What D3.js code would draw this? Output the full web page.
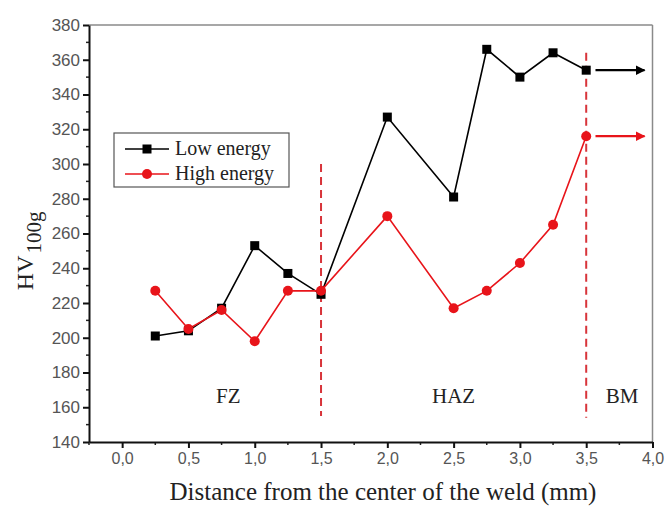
<!DOCTYPE html>
<html>
<head>
<meta charset="utf-8">
<script src="https://cdn.jsdelivr.net/npm/d3@7"></script>
<style>
  html, body { margin: 0; padding: 0; background: #fff; }
  svg { display: block; }
</style>
</head>
<body>
<div id="chart"></div>
<script>
// Hardness profile across the weld
const distances = [0.25, 0.5, 0.75, 1.0, 1.25, 1.5, 2.0, 2.5, 2.75, 3.0, 3.25, 3.5];
const lowEnergy = [201, 204, 217, 253, 237, 225, 327, 281, 366, 350, 364, 354];
const highEnergy = [227, 205, 216, 198, 227, 227, 270, 217, 227, 243, 265, 316];
const xTicks = [0, 0.5, 1.0, 1.5, 2.0, 2.5, 3.0, 3.5, 4.0];
const yTicks = [140, 160, 180, 200, 220, 240, 260, 280, 300, 320, 340, 360, 380];
const zoneBounds = [
  { x: 1.5, y0: 155, y1: 300 },
  { x: 3.5, y0: 154, y1: 364 },
];
const zoneLabels = [
  { name: "FZ", x: 0.8 },
  { name: "HAZ", x: 2.5 },
  { name: "BM", x: 3.77 },
];
const series = [
  { name: "Low energy", values: lowEnergy, color: "#000000", marker: "square" },
  { name: "High energy", values: highEnergy, color: "#e8141a", marker: "circle" },
];

const w = 665, h = 507;
const margin = { top: 25, right: 12.5, bottom: 65, left: 89 };
const serif = "'Liberation Serif', 'Times New Roman', serif";
const sans = "'Liberation Sans', Arial, sans-serif";

const svg = d3.select("#chart").append("svg")
  .attr("width", w)
  .attr("height", h);

const x = d3.scaleLinear().domain([-0.25, 4.0]).range([margin.left, w - margin.right]);
const y = d3.scaleLinear().domain([140, 380]).range([h - margin.bottom, margin.top]);

// frame: gray top/right
svg.append("line")
  .attr("x1", x(-0.25)).attr("x2", x(4.0))
  .attr("y1", y(380)).attr("y2", y(380))
  .attr("stroke", "#8a8a8a").attr("stroke-width", 1.5);
svg.append("line")
  .attr("x1", x(4.0)).attr("x2", x(4.0))
  .attr("y1", y(380)).attr("y2", y(140))
  .attr("stroke", "#8a8a8a").attr("stroke-width", 1.5);

// minor ticks
const minorX = d3.range(-0.25, 4.01, 0.25).filter(v => Math.abs((v * 2) - Math.round(v * 2)) > 0.01);
const minorY = d3.range(150, 380, 20);

svg.append("g")
  .selectAll("line")
  .data(minorX)
  .join("line")
  .attr("x1", d => x(d)).attr("x2", d => x(d))
  .attr("y1", y(140)).attr("y2", y(140) + 3)
  .attr("stroke", "#222").attr("stroke-width", 1.5);
svg.append("g")
  .selectAll("line")
  .data(minorY)
  .join("line")
  .attr("x1", x(-0.25) - 3).attr("x2", x(-0.25))
  .attr("y1", d => y(d)).attr("y2", d => y(d))
  .attr("stroke", "#222").attr("stroke-width", 1.5);

const xAxis = svg.append("g")
  .attr("transform", `translate(0,${y(140)})`)
  .call(d3.axisBottom(x).tickValues(xTicks).tickFormat(d3.format(".1f")).tickSize(6).tickSizeOuter(0).tickPadding(5));
xAxis.select(".domain").attr("stroke", "#111").attr("stroke-width", 2);
xAxis.selectAll(".tick line").attr("stroke", "#111").attr("stroke-width", 2);
xAxis.selectAll(".tick text")
  .text(d => d3.format(".1f")(d).replace(".", ","))
  .style("font-family", sans)
  .style("font-size", "16px")
  .attr("fill", "#555");

const yAxis = svg.append("g")
  .attr("transform", `translate(${x(-0.25)},0)`)
  .call(d3.axisLeft(y).tickValues(yTicks).tickSize(6).tickSizeOuter(0).tickPadding(3));
yAxis.select(".domain").attr("stroke", "#111").attr("stroke-width", 2);
yAxis.selectAll(".tick line").attr("stroke", "#111").attr("stroke-width", 2);
yAxis.selectAll(".tick text")
  .style("font-family", sans)
  .style("font-size", "17px")
  .attr("fill", "#555");

// axis titles
svg.append("text")
  .attr("x", 383)
  .attr("y", 500)
  .attr("text-anchor", "middle")
  .style("font-family", serif)
  .style("font-size", "25px")
  .attr("fill", "#222")
  .text("Distance from the center of the weld (mm)");

const yTitle = svg.append("text")
  .attr("transform", `translate(33,${y(250)}) rotate(-90)`)
  .attr("text-anchor", "middle")
  .style("font-family", serif)
  .style("font-size", "24px")
  .attr("fill", "#222");
yTitle.append("tspan").text("HV");
yTitle.append("tspan").attr("dy", 8).style("font-size", "21px").attr("dx", 2).text("100g");

// zone boundaries
svg.append("g")
  .selectAll("line")
  .data(zoneBounds)
  .join("line")
  .attr("x1", d => x(d.x)).attr("x2", d => x(d.x))
  .attr("y1", d => y(d.y1)).attr("y2", d => y(d.y0))
  .attr("stroke", "#d8343a")
  .attr("stroke-width", 2)
  .attr("stroke-dasharray", "8,5");

svg.append("g")
  .selectAll("text")
  .data(zoneLabels)
  .join("text")
  .attr("x", d => x(d.x))
  .attr("y", y(160) - 4)
  .attr("text-anchor", "middle")
  .style("font-family", serif)
  .style("font-size", "21px")
  .attr("fill", "#222")
  .text(d => d.name);

// series
const line = d3.line().x((d, i) => x(distances[i])).y(d => y(d));

function drawMarker(g, kind, color, cx, cy) {
  if (kind === "square") {
    g.append("rect")
      .attr("x", cx - 4.5).attr("y", cy - 4.5)
      .attr("width", 9).attr("height", 9)
      .attr("fill", color);
  } else {
    g.append("circle")
      .attr("cx", cx).attr("cy", cy).attr("r", 5)
      .attr("fill", color);
  }
}

for (const s of series) {
  svg.append("path")
    .datum(s.values)
    .attr("d", line)
    .attr("fill", "none")
    .attr("stroke", s.color)
    .attr("stroke-width", 1.6);
}
for (const s of series) {
  const g = svg.append("g");
  s.values.forEach((v, i) => drawMarker(g, s.marker, s.color, x(distances[i]), y(v)));
}

// arrows to the base metal
const defs = svg.append("defs");
series.forEach((s, i) => {
  defs.append("marker")
    .attr("id", `arrow${i}`)
    .attr("viewBox", "0 0 10 10")
    .attr("refX", 9).attr("refY", 5)
    .attr("markerWidth", 4.5).attr("markerHeight", 4.5)
    .attr("markerUnits", "strokeWidth")
    .attr("orient", "auto")
    .append("path")
    .attr("d", "M0,0 L10,5 L0,10 z")
    .attr("fill", s.color);
  const last = s.values[s.values.length - 1];
  svg.append("line")
    .attr("x1", x(3.57)).attr("x2", x(3.94))
    .attr("y1", y(last)).attr("y2", y(last))
    .attr("stroke", s.color)
    .attr("stroke-width", 2.2)
    .attr("marker-end", `url(#arrow${i})`);
});

// legend
const lg = svg.append("g").attr("transform", "translate(114,133)");
lg.append("rect")
  .attr("width", 175).attr("height", 54)
  .attr("fill", "#fff")
  .attr("stroke", "#555").attr("stroke-width", 1.2);
series.forEach((s, i) => {
  const ly = 16 + i * 25;
  lg.append("line")
    .attr("x1", 11).attr("x2", 55)
    .attr("y1", ly).attr("y2", ly)
    .attr("stroke", s.color).attr("stroke-width", 1.6);
  drawMarker(lg, s.marker, s.color, 33, ly);
  lg.append("text")
    .attr("x", 61).attr("y", ly + 6)
    .style("font-family", serif)
    .style("font-size", "20px")
    .attr("fill", "#222")
    .text(s.name);
});
</script>
</body>
</html>
